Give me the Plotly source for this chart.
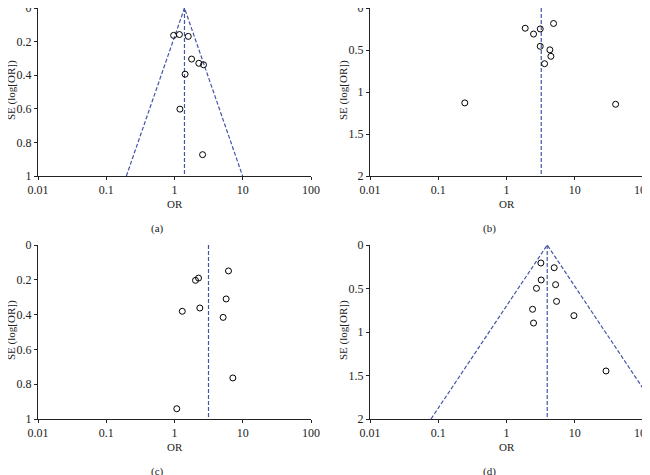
import numpy as np
import plotly.graph_objects as go

# study odds ratios (OR) and standard errors of log(OR) for each funnel plot
a_or = [0.97, 1.18, 1.59, 1.78, 2.27, 2.66, 1.43, 1.20, 2.58]
a_se = [0.163, 0.158, 0.169, 0.304, 0.329, 0.338, 0.394, 0.602, 0.873]

b_or = [1.88, 2.49, 3.12, 4.89, 3.12, 4.32, 4.47, 3.61, 0.245, 39.7]
b_se = [0.241, 0.310, 0.249, 0.184, 0.456, 0.498, 0.575, 0.663, 1.130, 1.146]

c_or = [1.08, 1.30, 2.03, 2.25, 2.35, 6.18, 5.71, 5.16, 7.16]
c_se = [0.941, 0.381, 0.203, 0.190, 0.362, 0.149, 0.310, 0.416, 0.764]

d_or = [3.19, 5.00, 3.22, 5.24, 2.75, 5.41, 2.41, 9.72, 2.49, 28.7]
d_se = [0.207, 0.261, 0.402, 0.456, 0.498, 0.648, 0.739, 0.812, 0.897, 1.448]

# pooled OR per panel, max SE of axis, whether the 95% funnel is drawn
pooled = [1.40, 3.23, 3.15, 3.95]
se_max = [1, 2, 1, 2]
funnel = [True, False, False, True]
labels = ["(a)", "(b)", "(c)", "(d)"]

x_ticks = [0.01, 0.1, 1, 10, 100]
x_text = ["0.01", "0.1", "1", "10", "100"]
y_ticks_1 = [0, 0.2, 0.4, 0.6, 0.8, 1]
y_text_1 = ["0", "0.2", "0.4", "0.6", "0.8", "1"]
y_ticks_2 = [0, 0.5, 1, 1.5, 2]
y_text_2 = ["0", "0.5", "1", "1.5", "2"]

# the page body adds an 8px margin, so the figure is 8px smaller each way
W, H = 642, 467
FONT = "Liberation Serif"
DASH = "#4654a6"
TICK = dict(family=FONT, size=12, color="#222")
LAB = dict(family=FONT, size=11, color="#222")

# panel boxes in figure pixels: left, right, top, bottom
boxes = [(30, 303, 0, 168), (362, 635, 0, 168),
         (30, 303, 237, 411), (362, 635, 237, 411)]

data = [(a_or, a_se), (b_or, b_se), (c_or, c_se), (d_or, d_se)]


def note(text, px, py, **kw):
    return dict(text=text, x=px / W, y=1 - py / H, xref="paper", yref="paper",
                xanchor="center", yanchor="middle", showarrow=False, **kw)


fig = go.Figure()
annotations = []
for i, ((ors, ses), box) in enumerate(zip(data, boxes)):
    n = "" if i == 0 else str(i + 1)
    xa, ya = "x" + n, "y" + n
    left, right, top, bottom = box
    p = pooled[i]

    if funnel[i]:
        se_line = np.array([se_max[i], 0, se_max[i]])
        or_line = p * np.exp(np.array([-1.96, 0, 1.96]) * se_line)
        fig.add_trace(go.Scatter(
            x=or_line, y=se_line, mode="lines", xaxis=xa, yaxis=ya,
            line=dict(color=DASH, width=1.2, dash="4px,2px"), showlegend=False,
        ))
    fig.add_trace(go.Scatter(
        x=[p, p], y=[0, se_max[i]], mode="lines", xaxis=xa, yaxis=ya,
        line=dict(color=DASH, width=1.2, dash="4px,2px"), showlegend=False,
    ))
    fig.add_trace(go.Scatter(
        x=ors, y=ses, mode="markers", xaxis=xa, yaxis=ya,
        marker=dict(symbol="circle-open", size=6, color="black",
                    line=dict(width=1, color="black")),
        showlegend=False,
    ))

    xdom = [left / W, right / W]
    ydom = [1 - bottom / H, 1 - top / H]
    yt, ytt = (y_ticks_1, y_text_1) if se_max[i] == 1 else (y_ticks_2, y_text_2)
    common = dict(
        automargin=False, showgrid=False, zeroline=False,
        showline=True, linecolor="#222", linewidth=1,
        ticks="outside", ticklen=3, tickcolor="#222", tickfont=TICK,
        ticklabeloverflow="allow",
    )
    fig.update_layout(**{
        "xaxis" + n: dict(type="log", range=[-2, 2], domain=xdom, anchor=ya,
                          tickvals=x_ticks, ticktext=x_text, **common),
        "yaxis" + n: dict(range=[se_max[i], 0], domain=ydom, anchor=xa,
                          tickvals=yt, ticktext=ytt, **common),
    })

    cx = (left + right) / 2
    annotations += [
        note("OR", cx + 0.5, bottom + 28, font=LAB),
        note(labels[i], cx - 17, bottom + 52, font=LAB),
        note("SE (log[OR])", left - 27, (top + bottom) / 2 - 2,
             textangle=-90, font=LAB),
    ]

fig.update_layout(
    width=W, height=H,
    margin=dict(l=0, r=0, t=0, b=0),
    paper_bgcolor="white", plot_bgcolor="white",
    annotations=annotations,
)

fig.write_html("out.html")
